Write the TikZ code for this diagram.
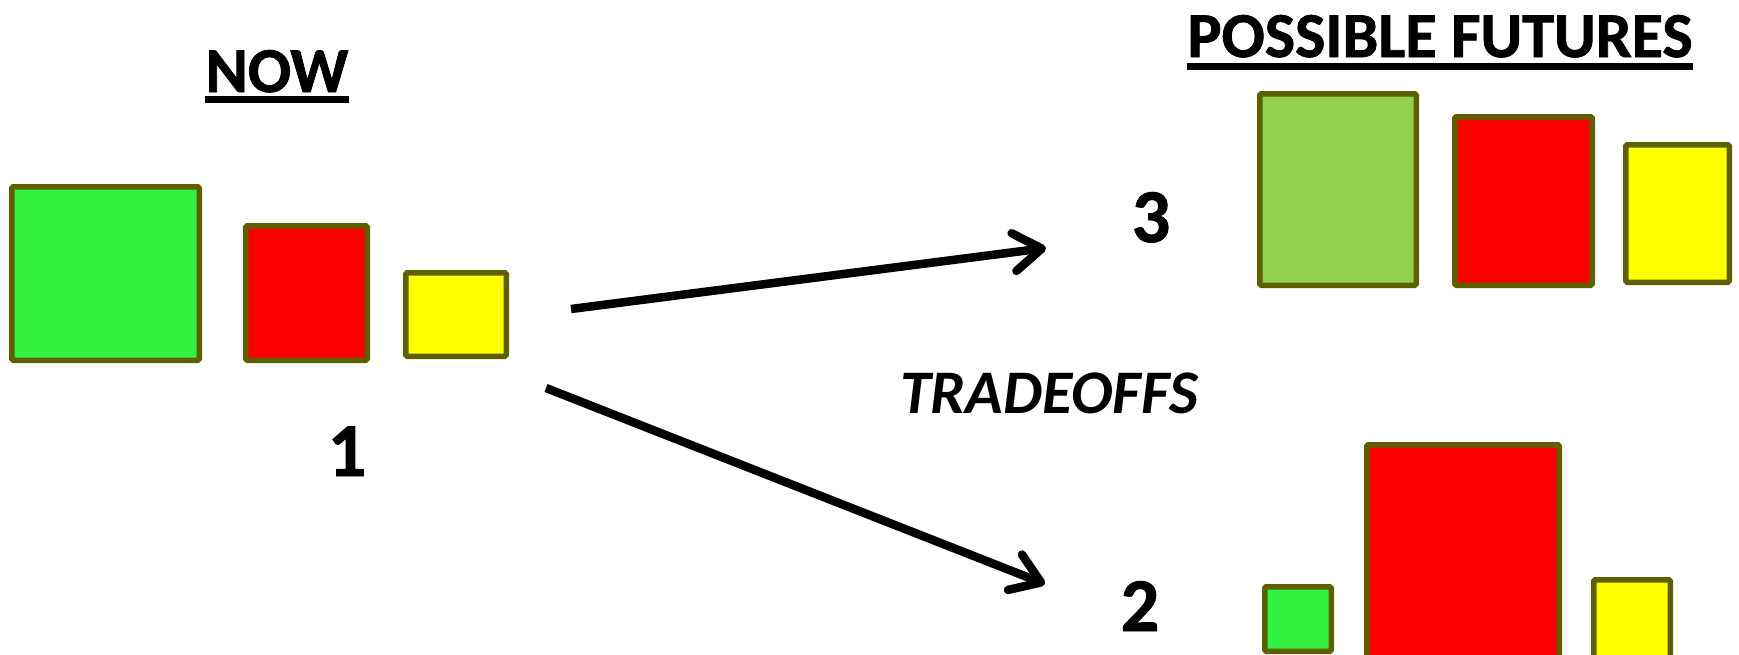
\documentclass[tikz,border=0pt]{standalone}
\usepackage{fontspec}
\setmainfont{Carlito}[BoldFeatures={FakeBold=1.2}]
\usetikzlibrary{arrows.meta}

\definecolor{boxline}{RGB}{94,96,0}
\definecolor{nowgreen}{RGB}{51,241,64}
\definecolor{lightgreen}{RGB}{146,208,80}
\definecolor{boxyellow}{RGB}{255,255,0}

\begin{document}
\begin{tikzpicture}[x=1pt,y=-1pt,
  box/.style={draw=boxline, line width=5.5pt, rounded corners=1.5pt, inner sep=0pt, anchor=north west},
  head/.style={font=\fontsize{64}{68}\selectfont\bfseries, inner sep=0pt, anchor=base},
  num/.style={font=\fontsize{76}{80}\selectfont\bfseries, inner sep=0pt, anchor=base},
  choice/.style={line width=8.5pt, -{Straight Barb[length=28pt,width=38pt,round]}}]
\useasboundingbox (0,0) rectangle (1739,654);
\clip (0,0) rectangle (1739,654);
% now
\node[head] (now) at (277,92) {NOW};
\draw[line width=7pt] ([yshift=-7pt]now.base west) -- ([yshift=-7pt]now.base east);
\node[box, fill=nowgreen, minimum width=187.5pt, minimum height=173.5pt] (nowG) at (9,184) {};
\node[box, fill=red, minimum width=121.5pt, minimum height=134.5pt] (nowR) at (243,223) {};
\node[box, fill=boxyellow, minimum width=100.5pt, minimum height=83.5pt] (nowY) at (403,270) {};
\node[num] (one) at (347,476) {1};
% futures
\node[head] (fut) at (1440,57) {POSSIBLE FUTURES};
\draw[line width=7pt] ([yshift=-9.5pt]fut.base west) -- ([yshift=-9.5pt]fut.base east);
\node[head, font=\fontsize{62}{66}\selectfont\bfseries\itshape] (trade) at (1049,413) {TRADEOFFS};
% future 3
\node[num] (three) at (1151,242) {3};
\node[box, fill=lightgreen, minimum width=156.5pt, minimum height=191.5pt] (threeG) at (1257,91) {};
\node[box, fill=red, minimum width=137.5pt, minimum height=168.5pt] (threeR) at (1452,114) {};
\node[box, fill=boxyellow, minimum width=103.5pt, minimum height=137.5pt] (threeY) at (1623,142) {};
% future 2
\node[num] (two) at (1140,631) {2};
\node[box, fill=nowgreen, minimum width=66.5pt, minimum height=64.5pt] (twoG) at (1262,584) {};
\node[box, fill=red, minimum width=192.5pt, minimum height=240pt] (twoR) at (1364,442) {};
\node[box, fill=boxyellow, minimum width=76.5pt, minimum height=100pt] (twoY) at (1591,577) {};
% arrows
\coordinate (from3) at (571,309);
\coordinate (to3) at (1046,248);
\coordinate (from2) at (546,388);
\coordinate (to2) at (1045,584);
\draw[choice] (from3) -- (to3);
\draw[choice] (from2) -- (to2);
\end{tikzpicture}
\end{document}
